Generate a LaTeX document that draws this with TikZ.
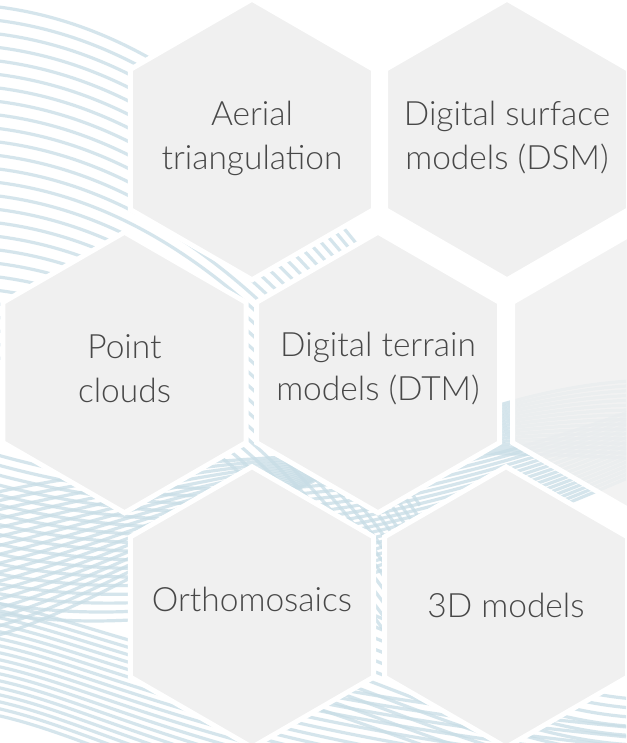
\documentclass[tikz,border=0pt]{standalone}
\usepackage{fontspec}
\setmainfont{Lato}[UprightFont={* Light}]
\definecolor{cellgray}{RGB}{240,240,240}
\definecolor{labelgray}{RGB}{72,72,72}
\definecolor{waveblue}{RGB}{200,221,230}
\tikzset{
  hexcell/.style={regular polygon, regular polygon sides=6, regular polygon rotate=30,
    minimum size=280.6pt, inner sep=0pt, fill=cellgray, draw=white, line width=5pt},
  hexlabel/.style={align=center, text=labelgray, font=\fontsize{33.5}{44}\selectfont},
  wave/.style={draw=waveblue, line width=3.2pt, opacity=0.75}
}
\usetikzlibrary{shapes.geometric}
\begin{document}
\begin{tikzpicture}[x=1pt, y=-1pt]
    \useasboundingbox[fill=white] (0,0) rectangle (626,743);
    % background waves
    \begin{scope}
        \clip (0,0) rectangle (626,743);
        \foreach \k in {0,1,...,26} {
            \draw[wave] (-20,5+13.5*\k) .. controls (100,15+13.5*\k) and (250,80+13.5*\k) .. (420,330+13.5*\k);
        }
        \foreach \k in {0,1,...,16} {
            \draw[wave] (-20,450+10*\k) .. controls (150,500+9*\k) and (350,520+5*\k) .. (660,400+4*\k);
            \draw[wave] (-20,640-9*\k) .. controls (150,600-9*\k) and (400,380+4*\k) .. (660,380+5*\k);
            \draw[wave] (-20,600+7*\k) .. controls (100,620+7*\k) and (200,690+8*\k) .. (660,730+10*\k);
        }
        \foreach \k in {0,1,...,10} {
            \draw[wave] (200,560+12*\k) .. controls (350,580+12*\k) and (500,700+10*\k) .. (660,700+9*\k);
        }
    \end{scope}
    % cells
    \node[hexcell, fill opacity=0.82] (blank) at (634,372.5) {};
    \foreach \id/\cx/\cy/\ty/\txt in {
        aerial/252/139.5/138/{Aerial\\triangulation},
        dsm/507/139.5/138/{Digital surface\\models (DSM)},
        cloud/124.5/372.5/369/{Point\\clouds},
        dtm/378/372.5/369/{Digital terrain\\models (DTM)},
        ortho/252/607/599/{Orthomosaics},
        model/506/607/605/{3D models}} {
        \node[hexcell] (\id) at (\cx,\cy) {};
        \node[hexlabel] (\id-label) at (\cx,\ty) {\txt};
    }
\end{tikzpicture}
\end{document}
